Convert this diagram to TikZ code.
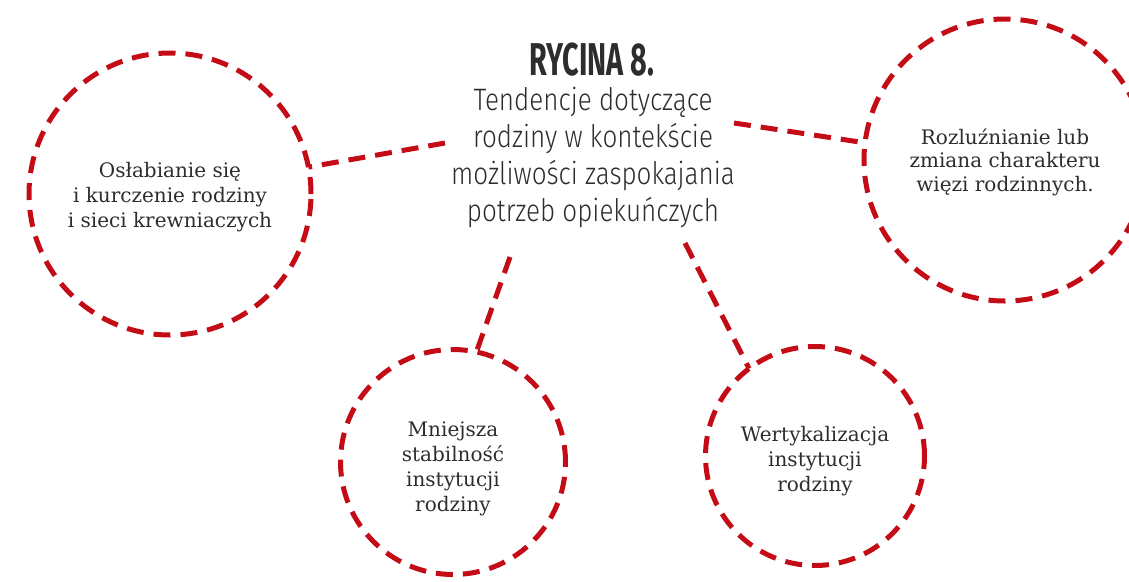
\documentclass[tikz,border=0pt]{standalone}
\usepackage{fontspec}
\setmainfont{DejaVu Serif}
\newfontfamily\headfont[FakeStretch=0.625]{Fira Sans}
\newfontfamily\leadfont[FakeStretch=0.84]{Fira Sans Light}
\newfontfamily\bodyfont{DejaVu Serif}
\definecolor{accent}{RGB}{196,12,22}
\definecolor{ink}{RGB}{45,45,45}
\tikzset{
  ring/.style={circle, draw=accent, line width=5pt, dash pattern=on 17pt off 10pt,
    inner sep=0pt, outer sep=0pt},
  ringtext/.style={inner sep=0pt, align=center, text=ink,
    font=\bodyfont\fontsize{20}{25}\selectfont},
  link/.style={draw=accent, line width=5pt, dash pattern=on 17pt off 10pt},
}
\begin{document}
\begin{tikzpicture}[x=1pt, y=-1pt]
  \useasboundingbox (0,0) rectangle (1129,581);
  \clip (0,0) rectangle (1129,581);

  % heading in the middle
  \node[anchor=base, inner sep=0pt, text=ink,
        font=\headfont\bfseries\fontsize{46}{46}\selectfont] (head) at (592,75) {RYCINA 8.};
  \node[anchor=north, inner sep=0pt, align=center, text=ink,
        font=\leadfont\fontsize{31}{37}\selectfont] (lead) at (593,87)
    {Tendencje dotyczące\\ rodziny w kontekście\\ możliwości zaspokajania\\ potrzeb opiekuńczych};

  % the four tendencies
  \node[ring, minimum size=282pt] (weak) at (170,194) {};
  \node[ring, minimum size=282pt] (bonds) at (1005,160) {};
  \node[ring, minimum size=225pt] (stab) at (453,462) {};
  \node[ring, minimum size=219pt] (vert) at (815,456) {};

  \node[ringtext] (weak-t) at ([yshift=-3pt]weak.center)
    {Osłabianie się\\ i kurczenie rodziny\\ i sieci krewniaczych};
  \node[ringtext, font=\bodyfont\fontsize{20}{23.5}\selectfont] (bonds-t) at ([yshift=-2pt]bonds.center)
    {Rozluźnianie lub\\ zmiana charakteru\\ więzi rodzinnych.};
  \node[ringtext] (stab-t) at ([yshift=-7pt]stab.center)
    {Mniejsza\\ stabilność\\ instytucji\\ rodziny};
  \node[ringtext] (vert-t) at ([yshift=-5pt]vert.center)
    {Wertykalizacja\\ instytucji\\ rodziny};

  % connectors from the heading to each circle
  \coordinate (tl) at (445,143);
  \coordinate (tr) at (734,123);
  \coordinate (bm) at (510,257);
  \coordinate (br) at (685,243);
  \draw[link] (tl) -- (weak.11);
  \draw[link] (tr) -- (bonds.173);
  \draw[link] (bm) -- (stab.78);
  \draw[link] (br) -- (vert.127);
\end{tikzpicture}
\end{document}
